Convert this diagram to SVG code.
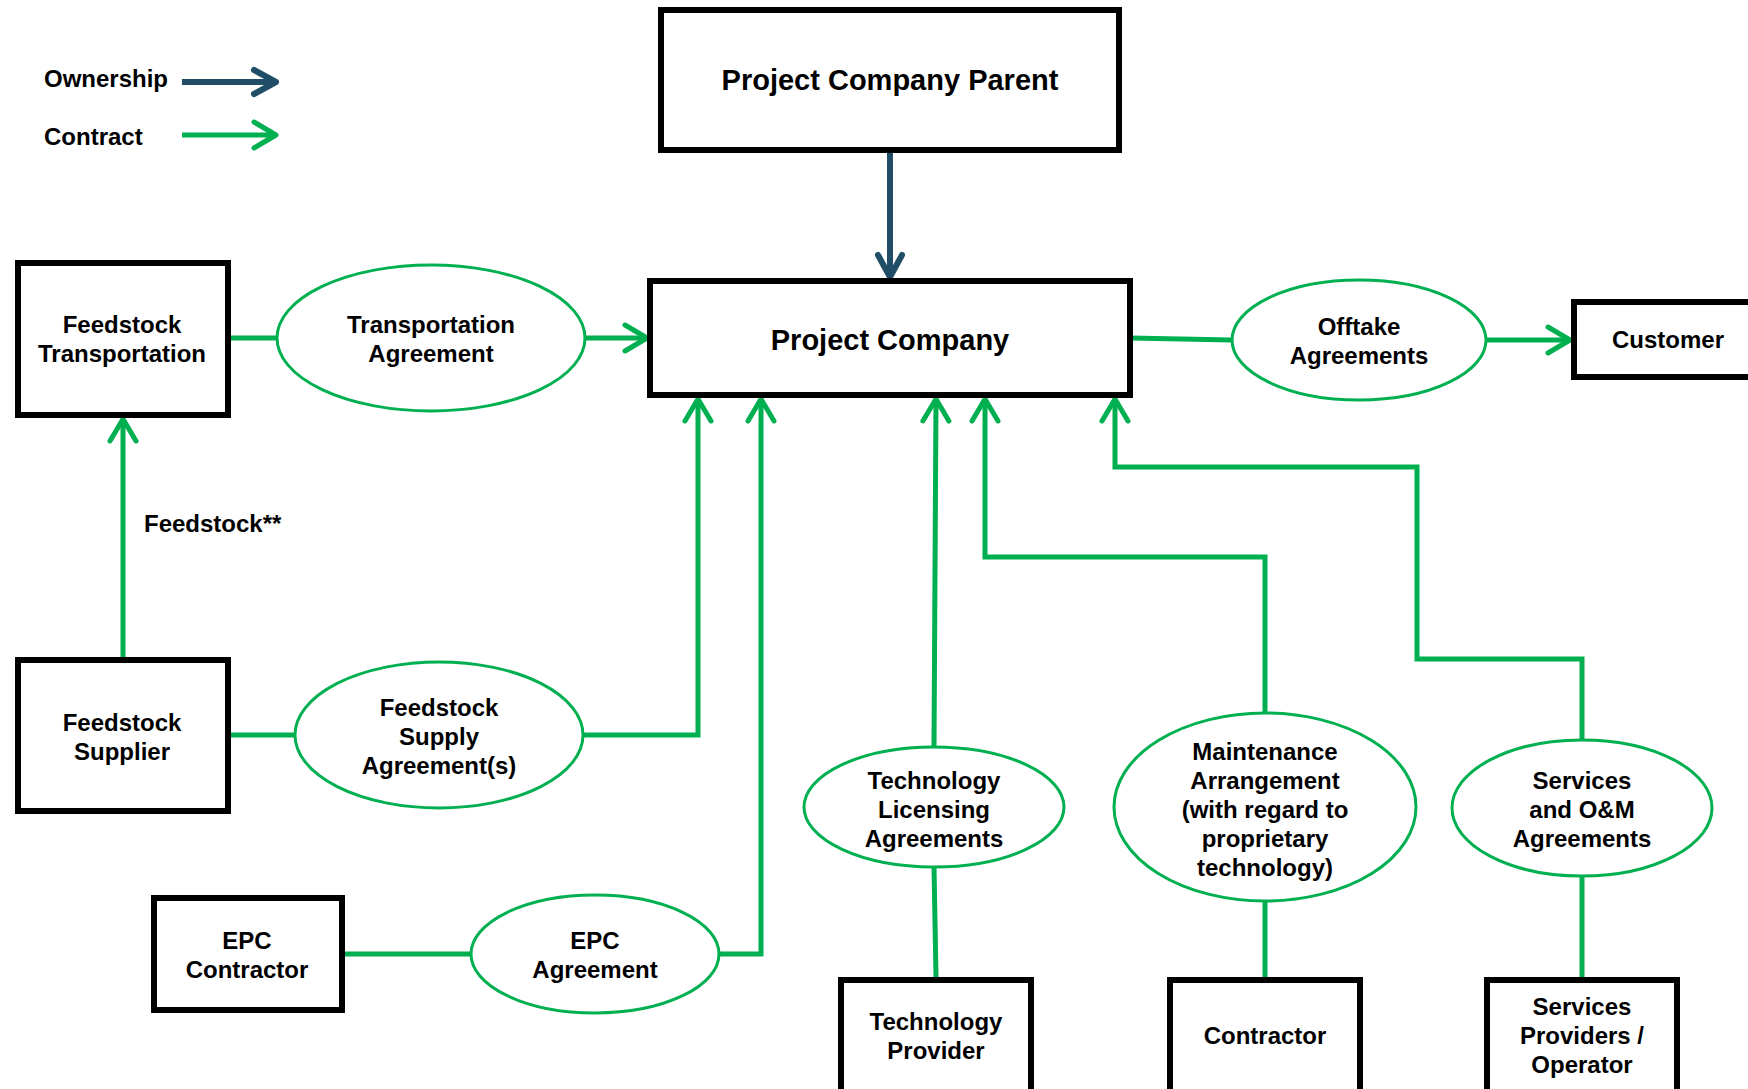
<svg xmlns="http://www.w3.org/2000/svg" width="1748" height="1089" viewBox="0 0 1748 1089">
<style>
.box{fill:#fff;stroke:#000;stroke-width:6}
.ell{fill:#fff;stroke:#00b050;stroke-width:3}
.t{font-family:"Liberation Sans",Arial,sans-serif;font-weight:bold;font-size:24px;fill:#000;text-anchor:middle}
.tl{font-family:"Liberation Sans",Arial,sans-serif;font-weight:bold;font-size:24px;fill:#000}
.big{font-size:29px}
.g{fill:none;stroke:#00b050;stroke-width:5;stroke-linejoin:miter}
.o{fill:none;stroke:#1f4e66;stroke-width:6}
</style>
<defs>
<marker id="ag" markerUnits="userSpaceOnUse" markerWidth="34" markerHeight="34" viewBox="-28 -17 34 34" refX="0" refY="0" orient="auto">
<path d="M-22,-13 L0,0 L-22,13" fill="none" stroke="#00b050" stroke-width="5" stroke-linecap="round" stroke-linejoin="round"/>
</marker>
<marker id="ao" markerUnits="userSpaceOnUse" markerWidth="34" markerHeight="34" viewBox="-28 -17 34 34" refX="0" refY="0" orient="auto">
<path d="M-22,-12 L0,0 L-22,12" fill="none" stroke="#1f4e66" stroke-width="6" stroke-linecap="round" stroke-linejoin="round"/>
</marker>
</defs>
<rect width="1748" height="1089" fill="#fff"/>

<g id="legend">
<text class="tl" x="44" y="87">Ownership</text>
<line class="o" x1="182" y1="82" x2="276" y2="82" marker-end="url(#ao)"/>
<text class="tl" x="44" y="145">Contract</text>
<line class="g" x1="182" y1="135" x2="276" y2="135" stroke-width="6" marker-end="url(#ag)"/>
</g>

<g id="connectors">
<line class="o" x1="890" y1="153" x2="890" y2="277" marker-end="url(#ao)"/>
<line class="g" x1="230" y1="338" x2="276" y2="338"/>
<line class="g" x1="585" y1="338" x2="647" y2="338" marker-end="url(#ag)"/>
<polyline class="g" points="1130,338 1232,340"/>
<line class="g" x1="1486" y1="340" x2="1570" y2="340" marker-end="url(#ag)"/>
<line class="g" x1="123" y1="658" x2="123" y2="419" marker-end="url(#ag)"/>
<line class="g" x1="230" y1="735" x2="295" y2="735"/>
<polyline class="g" points="583,735 698,735 698,399" marker-end="url(#ag)"/>
<line class="g" x1="344" y1="954" x2="472" y2="954"/>
<polyline class="g" points="719,954 761,954 761,399" marker-end="url(#ag)"/>
<line class="g" x1="934" y1="747" x2="936" y2="399" marker-end="url(#ag)"/>
<line class="g" x1="934" y1="867" x2="936" y2="977"/>
<polyline class="g" points="1265,713 1265,557 985,557 985,399" marker-end="url(#ag)"/>
<line class="g" x1="1265" y1="901" x2="1265" y2="977"/>
<polyline class="g" points="1582,740 1582,659 1417,659 1417,467 1115,467 1115,399" marker-end="url(#ag)"/>
<line class="g" x1="1582" y1="876" x2="1582" y2="977"/>
</g>

<g id="project-company-parent">
<rect class="box" x="661" y="10" width="458" height="140"/>
<text class="t big" x="890" y="90">Project Company Parent</text>
</g>
<g id="project-company">
<rect class="box" x="650" y="281" width="480" height="114"/>
<text class="t big" x="890" y="350">Project Company</text>
</g>
<g id="feedstock-transportation">
<rect class="box" x="18" y="263" width="210" height="152"/>
<text class="t" x="122" y="333">Feedstock</text>
<text class="t" x="122" y="362">Transportation</text>
</g>
<g id="transportation-agreement">
<ellipse class="ell" cx="431" cy="338" rx="154" ry="73"/>
<text class="t" x="431" y="333">Transportation</text>
<text class="t" x="431" y="362">Agreement</text>
</g>
<g id="offtake-agreements">
<ellipse class="ell" cx="1359" cy="340" rx="127" ry="60"/>
<text class="t" x="1359" y="335">Offtake</text>
<text class="t" x="1359" y="364">Agreements</text>
</g>
<g id="customer">
<rect class="box" x="1574" y="302" width="190" height="75"/>
<text class="t" x="1668" y="348">Customer</text>
</g>
<g id="feedstock-label">
<text class="tl" x="144" y="532">Feedstock**</text>
</g>
<g id="feedstock-supplier">
<rect class="box" x="18" y="660" width="210" height="151"/>
<text class="t" x="122" y="731">Feedstock</text>
<text class="t" x="122" y="760">Supplier</text>
</g>
<g id="feedstock-supply-agreements">
<ellipse class="ell" cx="439" cy="735" rx="144" ry="73"/>
<text class="t" x="439" y="716">Feedstock</text>
<text class="t" x="439" y="745">Supply</text>
<text class="t" x="439" y="774">Agreement(s)</text>
</g>
<g id="epc-contractor">
<rect class="box" x="154" y="898" width="188" height="112"/>
<text class="t" x="247" y="949">EPC</text>
<text class="t" x="247" y="978">Contractor</text>
</g>
<g id="epc-agreement">
<ellipse class="ell" cx="595" cy="954" rx="124" ry="59"/>
<text class="t" x="595" y="949">EPC</text>
<text class="t" x="595" y="978">Agreement</text>
</g>
<g id="technology-licensing-agreements">
<ellipse class="ell" cx="934" cy="807" rx="130" ry="60"/>
<text class="t" x="934" y="789">Technology</text>
<text class="t" x="934" y="818">Licensing</text>
<text class="t" x="934" y="847">Agreements</text>
</g>
<g id="maintenance-arrangement">
<ellipse class="ell" cx="1265" cy="807" rx="151" ry="94"/>
<text class="t" x="1265" y="760">Maintenance</text>
<text class="t" x="1265" y="789">Arrangement</text>
<text class="t" x="1265" y="818">(with regard to</text>
<text class="t" x="1265" y="847">proprietary</text>
<text class="t" x="1265" y="876">technology)</text>
</g>
<g id="services-om-agreements">
<ellipse class="ell" cx="1582" cy="808" rx="130" ry="68"/>
<text class="t" x="1582" y="789">Services</text>
<text class="t" x="1582" y="818">and O&amp;M</text>
<text class="t" x="1582" y="847">Agreements</text>
</g>
<g id="technology-provider">
<rect class="box" x="841" y="980" width="190" height="130"/>
<text class="t" x="936" y="1030">Technology</text>
<text class="t" x="936" y="1059">Provider</text>
</g>
<g id="contractor">
<rect class="box" x="1170" y="980" width="190" height="130"/>
<text class="t" x="1265" y="1044">Contractor</text>
</g>
<g id="services-providers-operator">
<rect class="box" x="1487" y="980" width="190" height="130"/>
<text class="t" x="1582" y="1015">Services</text>
<text class="t" x="1582" y="1044">Providers /</text>
<text class="t" x="1582" y="1073">Operator</text>
</g>
</svg>
